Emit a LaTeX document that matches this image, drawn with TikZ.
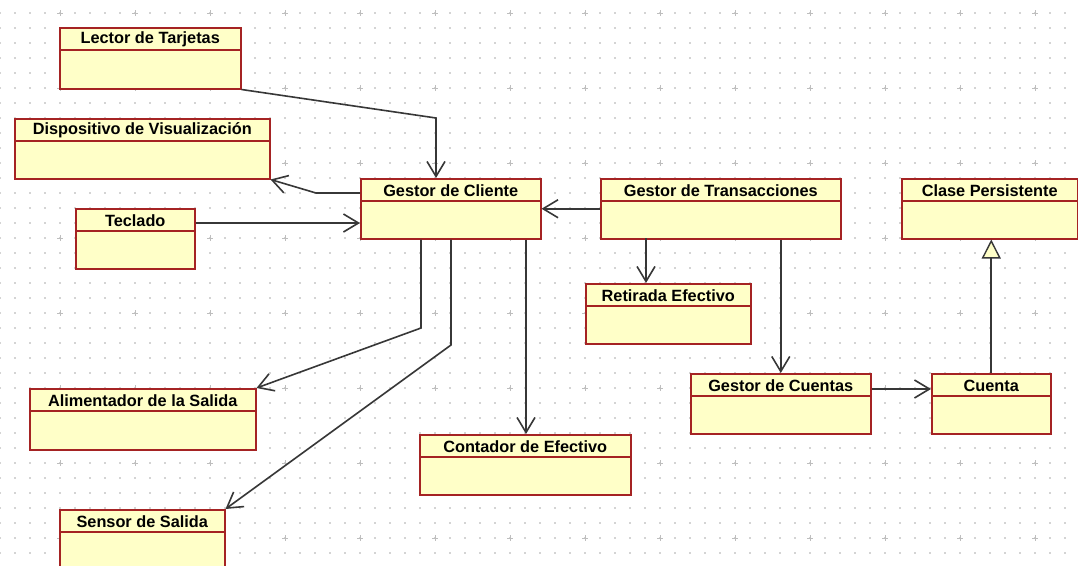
\documentclass[tikz,border=0pt]{standalone}
\usepackage{fontspec}
\setmainfont{Liberation Sans}
\usetikzlibrary{arrows.meta}
\definecolor{boxfill}{RGB}{255,255,200}
\definecolor{boxline}{RGB}{165,35,35}
\definecolor{wire}{RGB}{55,55,55}
\definecolor{griddot}{RGB}{212,212,212}
\definecolor{gridplus}{RGB}{190,190,190}
\tikzset{
  umlbox/.style={draw=boxline, fill=boxfill, line width=1.5pt, inner sep=0pt,
    anchor=north west,
    path picture={\draw[boxline, line width=1.5pt]
      ([yshift=-22pt]path picture bounding box.north west) --
      ([yshift=-22pt]path picture bounding box.north east);}},
  umltitle/.style={inner sep=0pt, font=\fontsize{16.3}{19}\selectfont\bfseries},
  assoc/.style={draw=wire, line width=1.6pt,
    -{Straight Barb[length=15pt,width=18pt,line width=1.6pt]}},
  inherit/.style={draw=wire, line width=1.6pt,
    -{Triangle[open,length=19pt,width=19pt,line width=1.4pt,fill=boxfill]}}
}
% class box: name, x, y (top left), width, height, title
\newcommand\umlclass[6]{%
  \node[umlbox, minimum width=#4pt, minimum height=#5pt] (#1) at (#2,#3) {};
  \node[umltitle] (#1-t) at ([yshift=-12.5pt]#1.north) {#6};
}
\begin{document}
\begin{tikzpicture}[x=1pt,y=-1pt]
  \useasboundingbox (0,0) rectangle (1078,565);
  \clip (0,0) rectangle (1078,565);
  \fill[white] (0,0) rectangle (1078,565);
  % background grid: dots and crosses
  \foreach \gx in {0,15,...,1075}
    \foreach \gy in {-2,13,...,565}
      \fill[griddot] (\gx-0.6,\gy-0.6) rectangle (\gx+0.6,\gy+0.6);
  \foreach \gx in {60,135,...,1075}
    \foreach \gy in {13,88,...,565}
      \draw[gridplus, line width=0.6pt] (\gx-3,\gy) -- (\gx+3,\gy) (\gx,\gy-3) -- (\gx,\gy+3);

  % classes
  \umlclass{lector}{59}{27}{181}{61}{Lector de Tarjetas}
  \umlclass{disp}{14}{118}{255}{60}{Dispositivo de Visualización}
  \umlclass{cliente}{360}{178}{180}{60}{Gestor de Cliente}
  \umlclass{trans}{600}{178}{240}{60}{Gestor de Transacciones}
  \umlclass{clase}{901}{178}{176}{60}{Clase Persistente}
  \umlclass{teclado}{75}{208}{119}{60}{Teclado}
  \umlclass{retirada}{585}{283}{165}{60}{Retirada Efectivo}
  \umlclass{cuentas}{690}{373}{180}{60}{Gestor de Cuentas}
  \umlclass{cuenta}{931}{373}{119}{60}{Cuenta}
  \umlclass{alim}{29}{388}{226}{61}{Alimentador de la Salida}
  \umlclass{contador}{419}{434}{211}{60}{Contador de Efectivo}
  \umlclass{sensor}{59}{509}{165}{62}{Sensor de Salida}

  % associations
  \coordinate (c1) at (436,118);
  \draw[assoc] (lector.south east) -- (c1) -- (c1 |- cliente.north);
  \coordinate (c2) at (316,193);
  \draw[assoc] (cliente.west |- c2) -- (c2) -- (disp.south east);
  \coordinate (c3) at (200,223);
  \draw[assoc] (teclado.east |- c3) -- (cliente.west |- c3);
  \draw[assoc] (trans.west) -- (cliente.east);
  \coordinate (c4) at (646,238);
  \draw[assoc] (c4) -- (c4 |- retirada.north);
  \draw[assoc] (trans.south -| cuentas.north) -- (cuentas.north);
  \coordinate (c5) at (880,389);
  \draw[assoc] (cuentas.east |- c5) -- (cuenta.west |- c5);
  \draw[inherit] (cuenta.north) -- (cuenta.north |- clase.south);
  \coordinate (c6) at (421,328);
  \draw[assoc] (c6 |- cliente.south) -- (c6) -- (alim.north east);
  \coordinate (c7) at (451,345);
  \draw[assoc] (c7 |- cliente.south) -- (c7) -- (sensor.north east);
  \coordinate (c8) at (526,300);
  \draw[assoc] (c8 |- cliente.south) -- (c8 |- contador.north);
\end{tikzpicture}
\end{document}
